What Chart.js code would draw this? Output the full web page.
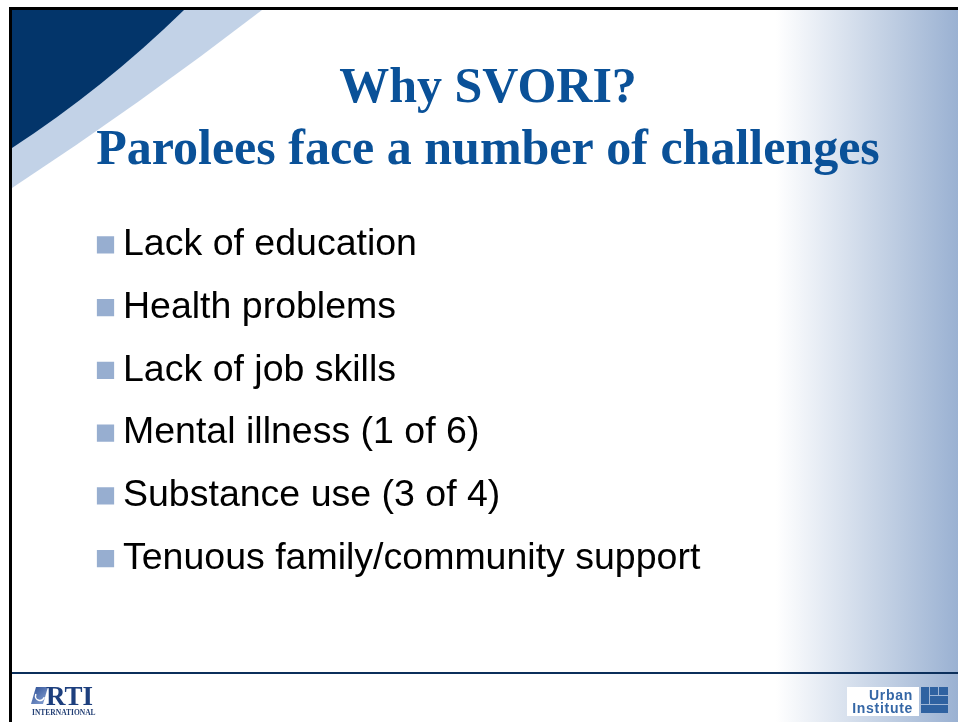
<!DOCTYPE html>
<html>
<head>
<meta charset="utf-8">
<script src="https://cdn.jsdelivr.net/npm/chart.js@4"></script>
<style>
  html, body { margin: 0; padding: 0; background: #fff; }
  canvas { display: block; }
</style>
</head>
<body>
<canvas id="slide" width="958" height="722"></canvas>
<script>
// slide content
const titleLines = ["Why SVORI?", "Parolees face a number of challenges"];
const bulletItems = [
    "Lack of education",
    "Health problems",
    "Lack of job skills",
    "Mental illness (1 of 6)",
    "Substance use (3 of 4)",
    "Tenuous family/community support",
];
// each bullet square sits at x = 0 on the hidden x scale
const bulletX = [0, 0, 0, 0, 0, 0];

const navy = "#03356a";
const titleBlue = "#0a5198";
const bulletBlue = "#97aed0";

// background: border, swoosh, gradient, footer and logos
const slideBackground = {
    id: "slideBackground",
    beforeDraw(chart) {
        const ctx = chart.ctx;
        const W = chart.width, H = chart.height;
        ctx.save();
        ctx.fillStyle = "#ffffff";
        ctx.fillRect(0, 0, W, H);

        // right side gradient
        const grad = ctx.createLinearGradient(776, 0, W, 0);
        grad.addColorStop(0, "rgba(155,178,210,0)");
        grad.addColorStop(1, "#9ab1d2");
        ctx.fillStyle = grad;
        ctx.fillRect(776, 10, W - 776, H - 10);

        // corner swoosh
        ctx.fillStyle = "#c2d2e7";
        ctx.beginPath();
        ctx.moveTo(12, 10);
        ctx.lineTo(262, 10);
        ctx.quadraticCurveTo(140, 104, 12, 188);
        ctx.closePath();
        ctx.fill();
        ctx.fillStyle = navy;
        ctx.beginPath();
        ctx.moveTo(12, 10);
        ctx.lineTo(184, 10);
        ctx.quadraticCurveTo(104, 88, 12, 148);
        ctx.closePath();
        ctx.fill();

        // frame lines
        ctx.fillStyle = "#000";
        ctx.fillRect(9, 7, W - 9, 3);
        ctx.fillRect(9, 7, 3, H - 7);
        ctx.fillStyle = "#0b2f5b";
        ctx.fillRect(12, 672, W - 12, 2);

        // RTI logo
        const sw = ctx.createLinearGradient(32, 687, 47, 704);
        sw.addColorStop(0, "#2d4f95");
        sw.addColorStop(1, "#8aa5d6");
        ctx.fillStyle = sw;
        ctx.beginPath();
        ctx.moveTo(31, 704);
        ctx.lineTo(36, 687);
        ctx.lineTo(48, 687);
        ctx.lineTo(43, 704);
        ctx.closePath();
        ctx.fill();
        ctx.strokeStyle = "#ffffff";
        ctx.lineWidth = 1.5;
        ctx.beginPath();
        ctx.arc(40, 696, 4.5, 0.3, 3.6);
        ctx.stroke();
        ctx.fillStyle = "#1d3f7e";
        ctx.font = "bold 27px 'Liberation Serif', serif";
        ctx.textBaseline = "alphabetic";
        ctx.textAlign = "left";
        ctx.fillText("RTI", 46, 705);
        ctx.font = "bold 7.5px 'Liberation Serif', serif";
        ctx.fillStyle = "#233f74";
        ctx.fillText("INTERNATIONAL", 32, 715);

        // Urban Institute logo
        ctx.fillStyle = "#ffffff";
        ctx.fillRect(847, 687, 72, 29);
        ctx.fillStyle = "#3567a6";
        ctx.font = "bold 14px 'Liberation Sans', Arial, sans-serif";
        ctx.letterSpacing = "0.7px";
        ctx.textAlign = "right";
        ctx.fillText("Urban", 913, 700);
        ctx.fillText("Institute", 913, 713);
        ctx.letterSpacing = "0px";
        ctx.fillStyle = "#2f62a1";
        ctx.fillRect(921, 687, 27, 26);
        ctx.strokeStyle = "#9fb6d6";
        ctx.lineWidth = 1;
        ctx.beginPath();
        ctx.moveTo(929.5, 687); ctx.lineTo(929.5, 704);
        ctx.moveTo(929.5, 695.5); ctx.lineTo(948, 695.5);
        ctx.moveTo(938.5, 687); ctx.lineTo(938.5, 695.5);
        ctx.moveTo(921, 704.5); ctx.lineTo(948, 704.5);
        ctx.stroke();
        ctx.restore();
    },
};

new Chart(document.getElementById("slide"), {
    type: "scatter",
    data: {
        datasets: [
            {
                data: bulletItems.map((item, i) => ({ x: bulletX[i], y: item })),
                pointStyle: "rect",
                pointRadius: 12.2,
                pointHoverRadius: 12.2,
                backgroundColor: bulletBlue,
                borderWidth: 0,
            },
        ],
    },
    options: {
        responsive: false,
        animation: false,
        events: [],
        layout: {
            padding: { left: 90, right: 72, top: 0, bottom: 132 },
        },
        plugins: {
            legend: { display: false },
            tooltip: { enabled: false },
            title: {
                display: true,
                text: titleLines,
                color: titleBlue,
                font: { family: "'Liberation Serif', 'Times New Roman', serif", size: 50, weight: "bold", lineHeight: 1.24 },
                padding: { top: 58, bottom: 31.5 },
            },
        },
        scales: {
            x: {
                type: "linear",
                display: false,
                min: -1,
                max: 1,
            },
            y: {
                type: "category",
                labels: bulletItems,
                position: "right",
                offset: true,
                grid: { display: false, drawTicks: false },
                border: { display: false },
                ticks: {
                    autoSkip: false,
                    padding: 2,
                    color: "#000000",
                    font: { family: "'Liberation Sans', Arial, sans-serif", size: 37.5 },
                },
                afterFit(scale) {
                    scale.width = 765;
                },
            },
        },
    },
    plugins: [slideBackground],
});
</script>
</body>
</html>
